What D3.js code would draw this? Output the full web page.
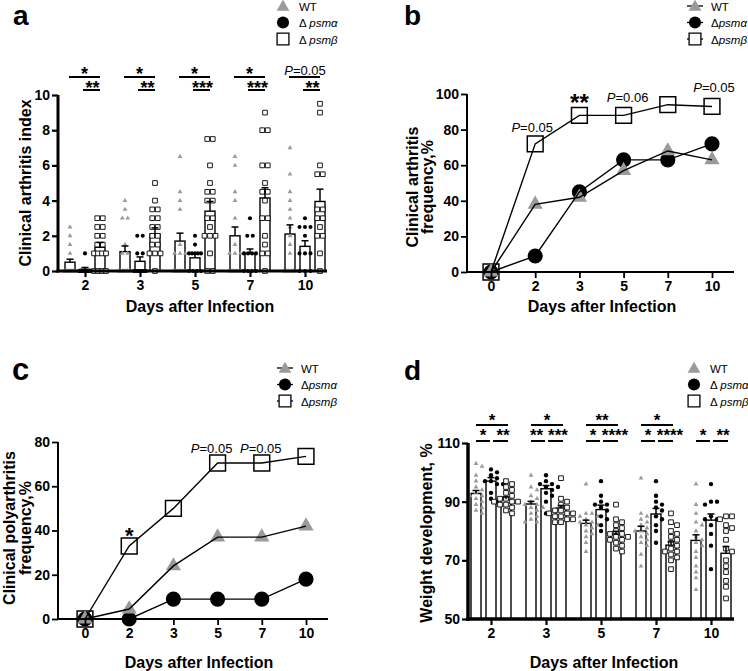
<!DOCTYPE html>
<html><head><meta charset="utf-8">
<script src="https://cdn.jsdelivr.net/npm/d3@7"></script>
<style>body{margin:0;background:#fff} svg{display:block}</style>
</head><body>
<svg id="chart" width="748" height="671"></svg>
<script>
const FONT = '"Liberation Sans", Arial, Helvetica, sans-serif';
const GRAY = "#9a9a9a";

// ---------- shared categories ----------
const groupLabels = ["WT", "Δpsmα", "Δpsmβ"];
const daysBar = [2, 3, 5, 7, 10];
const daysLine = [0, 2, 3, 5, 7, 10];
const xLabel = "Days after Infection";

// ---------- panel a: clinical arthritis index ----------
const aTicks = [0, 2, 4, 6, 8, 10];
const aMeanWT = [0.5, 1.1, 1.7, 2.0, 2.1];
const aMeanPsma = [0.1, 0.55, 0.75, 1.0, 1.4];
const aMeanPsmb = [1.35, 2.1, 3.4, 4.15, 3.95];
const aSemWT = [0.17, 0.32, 0.45, 0.5, 0.52];
const aSemPsma = [0.1, 0.25, 0.2, 0.25, 0.32];
const aSemPsmb = [0.27, 0.35, 0.55, 0.58, 0.7];
const aPtsWT = [
  [2.5, 2, 1.5, 1, 0, 0, 0, 0, 0, 0, 0, 0, 0, 0],
  [4, 3.5, 3, 3, 1.5, 1, 1, 0, 0, 0, 0, 0, 0, 0, 0],
  [6.5, 4.5, 4, 3.5, 1.5, 1, 1, 1, 0, 0, 0, 0, 0, 0, 0, 0],
  [6.5, 6, 4.5, 4, 3, 1.5, 1, 1, 1, 0, 0, 0, 0, 0, 0, 0],
  [7, 5.5, 4.5, 4, 3.5, 3, 2.5, 2, 1.5, 1, 0, 0, 0, 0, 0, 0]
];
const aPtsPsma = [
  [1, 0, 0, 0, 0, 0, 0, 0, 0, 0, 0],
  [2, 2, 1, 1, 0, 0, 0, 0, 0, 0, 0],
  [2, 1.5, 1, 1, 1, 1, 1, 0, 0, 0, 0],
  [3, 2, 2, 1, 1, 1, 1, 0, 0, 0, 0],
  [3, 2.5, 2.5, 2.5, 2, 1, 1, 1, 0, 0, 0]
];
const aPtsPsmb = [
  [3, 3, 2.5, 2.5, 2, 2, 1.5, 1.5, 1, 1, 1, 1, 0, 0, 0, 0],
  [5, 4, 3.5, 3.5, 3, 3, 2.5, 2.5, 2, 2, 1.5, 1.5, 1, 1, 1, 0],
  [7.5, 7.5, 6, 5, 4.5, 4.5, 4, 4, 3, 3, 2.5, 2, 2, 2, 1, 0, 0],
  [9, 8, 8, 6, 6, 5, 4.5, 4.5, 4, 3, 3, 2, 1.5, 1, 1, 0],
  [9.5, 9, 6, 5.5, 5.5, 3.5, 3.5, 3, 3, 2.5, 2, 2, 1, 0]
];
const aSigTop = ["*", "*", "*", "*", "P=0.05"];
const aSigLow = ["**", "**", "***", "***", "**"];

// ---------- panel b: clinical arthritis frequency ----------
const bTicks = [0, 20, 40, 60, 80, 100];
const bWT = [0, 38, 42, 57, 68, 63];
const bPsma = [0, 9, 45, 63, 63, 72];
const bPsmb = [0, 72, 88, 88, 94, 93];

// ---------- panel c: clinical polyarthritis frequency ----------
const cTicks = [0, 20, 40, 60, 80];
const cWT = [0, 4.5, 24, 37, 37, 42];
const cPsma = [0, 0, 9, 9, 9, 18];
const cPsmb = [0, 33, 50, 70.5, 70.5, 73.5];

// ---------- panel d: weight development ----------
const dTicks = [50, 70, 90, 110];
const dMeanWT = [92.8, 89.2, 82.6, 80.0, 76.8];
const dMeanPsma = [97.0, 94.4, 87.3, 85.8, 83.7];
const dMeanPsmb = [90.8, 87.8, 78.9, 75.2, 72.4];
const dSemWT = [1.0, 0.9, 1.1, 1.6, 1.9];
const dSemPsma = [1.2, 1.1, 1.5, 1.9, 2.1];
const dSemPsmb = [0.8, 0.9, 1.0, 1.1, 2.3];
const dPtsWT = [
  [103, 102, 99, 97, 95, 94, 93, 92, 92, 91, 90, 89, 88, 87, 86],
  [99, 95, 94, 92, 91, 90, 89, 89, 88, 88, 87, 86, 85, 84, 83, 83],
  [96, 86, 86, 85, 85, 84, 83, 83, 82, 82, 81, 80, 79, 78, 76, 73],
  [98, 86, 85, 84, 83, 82, 81, 80, 80, 79, 78, 77, 76, 75, 72, 68],
  [96, 89, 86, 83, 82, 80, 78, 77, 76, 75, 73, 71, 68, 66, 64, 60]
];
const dPtsPsma = [
  [101, 100, 99, 98, 97, 97, 96, 96, 93, 91, 90],
  [99, 97, 96, 96, 95, 95, 94, 93, 92, 90, 86],
  [97, 92, 90, 89, 89, 88, 87, 85, 84, 82, 80],
  [97, 92, 90, 89, 88, 87, 85, 84, 82, 80, 76],
  [96, 90, 90, 89, 85, 84, 84, 82, 79, 75, 67]
];
const dPtsPsmb = [
  [97, 96, 95, 94, 93, 92, 91, 91, 90, 90, 90, 89, 89, 88, 87, 86],
  [98, 91, 90, 89, 88, 87, 87, 86, 86, 85, 85, 84, 84, 83, 83, 86],
  [89, 84, 83, 82, 81, 80, 79, 79, 78, 78, 77, 77, 76, 75, 74, 73],
  [86, 83, 82, 80, 79, 78, 77, 76, 75, 74, 73, 73, 72, 71, 70, 67],
  [85, 85, 84, 82, 81, 80, 77, 74, 73, 70, 68, 66, 63, 61, 57]
];
const dSigTop = ["*", "*", "**", "*", ""];
const dSigLowL = ["*", "**", "*", "*", "*"];
const dSigLowR = ["**", "***", "****", "****", "**"];

// ---------- scales ----------
const yA = d3.scaleLinear().domain([0, 10]).range([271, 95]);
const xA = d3.scalePoint().domain(daysBar).range([85, 305]);
const yB = d3.scaleLinear().domain([0, 100]).range([272, 94]);
const xB = d3.scalePoint().domain(daysLine).range([491, 712]);
const yC = d3.scaleLinear().domain([0, 80]).range([619, 442]);
const xC = d3.scalePoint().domain(daysLine).range([85, 306]);
const yD = d3.scaleLinear().domain([50, 110]).range([619, 443]);
const xD = d3.scalePoint().domain(daysBar).range([491, 711]);
const groupOff = d3.scalePoint().domain([0, 1, 2]).range([-15, 15]);

const svg = d3.select("#chart");
svg.append("rect").attr("width", 748).attr("height", 671).attr("fill", "#fff");

function txt(g, x, y, s, size, weight, anchor) {
  return g.append("text").attr("x", x).attr("y", y).attr("font-family", FONT)
    .attr("font-size", size).attr("font-weight", weight || "normal")
    .attr("text-anchor", anchor || "middle").attr("fill", "#000").text(s);
}
function pText(g, x, y, s, size) {
  const t = g.append("text").attr("x", x).attr("y", y).attr("font-family", FONT)
    .attr("font-size", size).attr("text-anchor", "middle").attr("fill", "#000");
  t.append("tspan").attr("font-style", "italic").text(s.slice(0, 1));
  t.append("tspan").text(s.slice(1));
  return t;
}
function symPath(type, size) {
  const t = type === "tri" ? d3.symbolTriangle : type === "circle" ? d3.symbolCircle : d3.symbolSquare;
  return d3.symbol().type(t).size(size)();
}
function drawMarker(g, type, x, y, size, sw) {
  const p = g.append("path").attr("d", symPath(type, size)).attr("transform", `translate(${x},${y})`);
  if (type === "tri") p.attr("fill", GRAY);
  else if (type === "circle") p.attr("fill", "#000");
  else p.attr("fill", "#fff").attr("stroke", "#000").attr("stroke-width", sw || 1);
  return p;
}
const types = ["tri", "circle", "square"];

function axes(yS, xS, yTicks, xLeft, xRight, sw, tw) {
  const gy = svg.append("g").attr("transform", `translate(${xLeft},0)`)
    .call(d3.axisLeft(yS).tickValues(yTicks).tickSize(6).tickPadding(2).tickSizeOuter(0));
  gy.select(".domain").remove();
  gy.selectAll(".tick line").attr("stroke-width", tw).attr("stroke", "#000");
  gy.selectAll("text").attr("font-size", 14).attr("font-weight", "bold").attr("font-family", FONT).attr("fill", "#000");
  const yb = yS.range()[0], yt = yS.range()[1];
  svg.append("line").attr("x1", xLeft).attr("x2", xLeft).attr("y1", yt).attr("y2", yb + sw / 2)
    .attr("stroke", "#000").attr("stroke-width", sw);
  const gx = svg.append("g").attr("transform", `translate(0,${yb})`)
    .call(d3.axisBottom(xS).tickSize(6).tickPadding(3).tickSizeOuter(0));
  gx.select(".domain").remove();
  gx.selectAll(".tick line").attr("stroke-width", tw).attr("stroke", "#000");
  gx.selectAll("text").attr("font-size", 14).attr("font-weight", "bold").attr("font-family", FONT).attr("fill", "#000");
  svg.append("line").attr("x1", xLeft - sw / 2).attr("x2", xRight).attr("y1", yb).attr("y2", yb)
    .attr("stroke", "#000").attr("stroke-width", sw);
}

function rowSpread(vals, yS, sp, maxW) {
  const out = [];
  for (const [v, arr] of d3.group(vals, v => v)) {
    const n = arr.length;
    const s = n > 1 ? Math.min(sp, maxW / (n - 1)) : 0;
    arr.forEach((_, i) => out.push({ v, y: yS(v), dx: (i - (n - 1) / 2) * s }));
  }
  return out;
}
function dodge(vals, yS, step, minD) {
  const items = vals.map(v => ({ v, y: yS(v), dx: 0 })).sort((a, b) => a.y - b.y);
  const placed = [];
  items.forEach(p => {
    for (let k = 0; k < 30; k++) {
      const dx = k === 0 ? 0 : (k % 2 ? 1 : -1) * Math.ceil(k / 2) * step;
      p.dx = dx;
      if (placed.every(q => Math.hypot(q.dx - dx, q.y - p.y) >= minD)) break;
    }
    placed.push(p);
  });
  return placed;
}

function barPanel(yS, xS, base, means, sems, pts, spreadFn, sizes) {
  const g = svg.append("g");
  means.forEach((arr, gi) => {
    g.selectAll(null).data(arr).join("rect")
      .attr("x", (d, i) => xS(daysBar[i]) + groupOff(gi) - 5).attr("width", 10)
      .attr("y", d => yS(d)).attr("height", d => yS(base) - yS(d))
      .attr("fill", "#fff").attr("stroke", "#000").attr("stroke-width", 1.4);
  });
  pts.forEach((byDay, gi) => {
    byDay.forEach((vals, di) => {
      const cx = xS(daysBar[di]) + groupOff(gi);
      spreadFn(vals, yS).forEach(p => drawMarker(g, types[gi], cx + p.dx, p.y, sizes[gi], 0.9));
    });
  });
  means.forEach((arr, gi) => {
    arr.forEach((m, i) => {
      const cx = xS(daysBar[i]) + groupOff(gi);
      const y1 = yS(m), y2 = yS(m + sems[gi][i]);
      g.append("line").attr("x1", cx).attr("x2", cx).attr("y1", y1).attr("y2", y2).attr("stroke", "#000").attr("stroke-width", 1.5);
      g.append("line").attr("x1", cx - 3.5).attr("x2", cx + 3.5).attr("y1", y2).attr("y2", y2).attr("stroke", "#000").attr("stroke-width", 1.5);
    });
  });
}

function linePanel(yS, xS, series) {
  const g = svg.append("g");
  const sizes = [100, 180, 250];
  [2, 1, 0].forEach(gi => {
    series[gi].forEach((v, i) => drawMarker(g, types[gi], xS(daysLine[i]), yS(v), sizes[gi], 1.5));
  });
  const line = d3.line().x((d, i) => xS(daysLine[i])).y(d => yS(d));
  [2, 1, 0].forEach(gi => {
    g.append("path").attr("d", line(series[gi])).attr("fill", "none").attr("stroke", "#000").attr("stroke-width", 1.4);
  });
}

function legend(x, y, withLine, spaced) {
  const g = svg.append("g");
  const sizes = [70, 115, 140];
  groupLabels.forEach((lab, i) => {
    const yy = y + i * 16.5;
    if (withLine) g.append("line").attr("x1", x - 8).attr("x2", x + 8).attr("y1", yy).attr("y2", yy).attr("stroke", "#000").attr("stroke-width", 1.3);
    drawMarker(g, types[i], x, yy + (i === 0 ? 1 : 0), sizes[i], 1.3);
    const t = g.append("text").attr("x", x + 16).attr("y", yy + 4.5).attr("font-family", FONT).attr("font-size", 11.5).attr("fill", "#000");
    if (i === 0) t.text(lab);
    else {
      t.append("tspan").text(spaced ? "Δ " : "Δ");
      t.append("tspan").attr("font-style", "italic").text(lab.slice(1));
    }
  });
}

function yLabel(lines, cx, cy, size) {
  lines.forEach((s, i) => {
    const bx = cx[i] + size * 0.35;
    svg.append("text").attr("transform", `translate(${bx},${cy}) rotate(-90)`)
      .attr("font-family", FONT).attr("font-size", size).attr("font-weight", "bold")
      .attr("text-anchor", "middle").attr("fill", "#000").text(s);
  });
}

// ================= Panel a =================
barPanel(yA, xA, 0, [aMeanWT, aMeanPsma, aMeanPsmb], [aSemWT, aSemPsma, aSemPsmb],
  [aPtsWT, aPtsPsma, aPtsPsmb], (v, yS) => rowSpread(v, yS, 5.5, 12), [10, 13, 22]);
axes(yA, xA, aTicks, 58, 327, 3, 2.2);
daysBar.forEach((d, i) => {
  const c = xA(d);
  svg.append("line").attr("x1", c - 16).attr("x2", c + 15).attr("y1", 77).attr("y2", 77).attr("stroke", "#000").attr("stroke-width", 2);
  svg.append("line").attr("x1", c - 2).attr("x2", c + 15).attr("y1", 90).attr("y2", 90).attr("stroke", "#000").attr("stroke-width", 2);
  if (aSigTop[i].startsWith("P")) pText(svg, c, 74.5, aSigTop[i], 13);
  else txt(svg, c - 0.5, 80, aSigTop[i], 18, "bold");
  txt(svg, c + 7.5, 94, aSigLow[i], 18, "bold");
});
txt(svg, 13, 25, "a", 28, "bold", "start");
legend(283, 6, false, true);
yLabel(["Clinical arthritis index"], [25], 183, 16);
txt(svg, 200, 312, xLabel, 16, "bold");

// ================= Panel b =================
linePanel(yB, xB, [bWT, bPsma, bPsmb]);
axes(yB, xB, bTicks, 467, 734, 2, 1.8);
pText(svg, xB(2) - 3, yB(bPsmb[1]) - 12, "P=0.05", 13);
txt(svg, xB(3), yB(bPsmb[2]) - 4, "**", 24, "bold");
pText(svg, xB(5) + 4, yB(bPsmb[3]) - 13.5, "P=0.06", 13);
pText(svg, xB(10) + 2, yB(bPsmb[5]) - 14.5, "P=0.05", 13);
txt(svg, 404, 25, "b", 28, "bold", "start");
legend(695, 6, true, false);
yLabel(["Clinical arthritis", "frequency,%"], [412, 427], 187, 16);
txt(svg, 602, 312, xLabel, 16, "bold");

// ================= Panel c =================
linePanel(yC, xC, [cWT, cPsma, cPsmb]);
axes(yC, xC, cTicks, 58, 328, 2, 1.8);
txt(svg, xC(2), yC(cPsmb[1]) - 3, "*", 22, "bold");
pText(svg, xC(5) - 6, yC(cPsmb[3]) - 10, "P=0.05", 13);
pText(svg, xC(7) - 1, yC(cPsmb[4]) - 10, "P=0.05", 13);
txt(svg, 12, 380, "c", 31, "bold", "start");
legend(285, 368, true, false);
yLabel(["Clinical polyarthritis", "frequency,%"], [9, 25], 528, 16);
txt(svg, 199, 668, xLabel, 16, "bold");

// ================= Panel d =================
barPanel(yD, xD, 50, [dMeanWT, dMeanPsma, dMeanPsmb], [dSemWT, dSemPsma, dSemPsmb],
  [dPtsWT, dPtsPsma, dPtsPsmb], (v, yS) => dodge(v, yS, 3, 4.2), [10, 15, 22]);
axes(yD, xD, dTicks, 468, 734, 3.5, 2.2);
daysBar.forEach((d, i) => {
  const c = xD(d);
  if (dSigTop[i]) {
    svg.append("line").attr("x1", c - 15).attr("x2", c + 17).attr("y1", 425).attr("y2", 425).attr("stroke", "#000").attr("stroke-width", 2);
    txt(svg, c + 1, 426, dSigTop[i], 17, "bold");
  }
  svg.append("line").attr("x1", c - 15).attr("x2", c - 1).attr("y1", 441).attr("y2", 441).attr("stroke", "#000").attr("stroke-width", 2);
  svg.append("line").attr("x1", c + 2).attr("x2", c + 17).attr("y1", 441).attr("y2", 441).attr("stroke", "#000").attr("stroke-width", 2);
  const lw = dSigLowL[i].length, rw = dSigLowR[i].length;
  txt(svg, c - (lw > 1 ? 9.5 : 8), 441, dSigLowL[i], 17, "bold");
  txt(svg, c + (rw > 3 ? 14 : 12), 441, dSigLowR[i], 17, "bold");
});
txt(svg, 404, 380, "d", 28, "bold", "start");
legend(694, 368, false, true);
yLabel(["Weight development, %"], [426], 533, 16);
txt(svg, 604, 668, xLabel, 16, "bold");
</script>
</body></html>
